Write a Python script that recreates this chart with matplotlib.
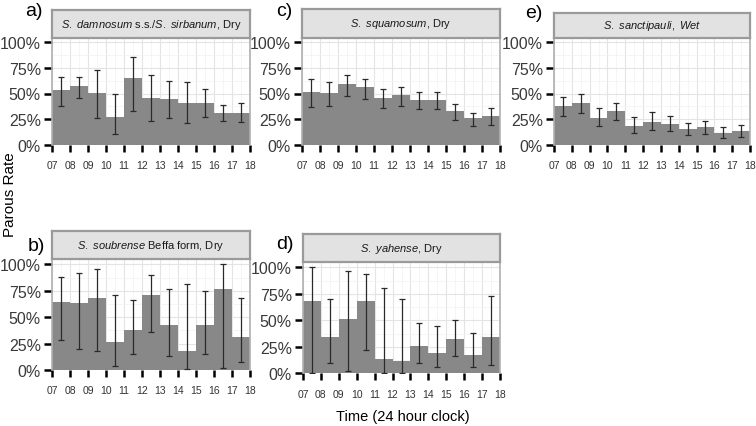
import numpy as np
import matplotlib
matplotlib.use("Agg")
import matplotlib.pyplot as plt
from matplotlib.ticker import MultipleLocator

plt.rcParams['font.family'] = ['Liberation Sans', 'DejaVu Sans']
plt.rcParams['mathtext.fontset'] = 'custom'
plt.rcParams['mathtext.rm'] = 'Liberation Sans'
plt.rcParams['mathtext.it'] = 'Liberation Sans:italic'

# hour bins (start of each hour) and tick labels
hour_start = [7, 8, 9, 10, 11, 12, 13, 14, 15, 16, 17]
tick_hours = [7, 8, 9, 10, 11, 12, 13, 14, 15, 16, 17, 18]
tick_labels = ['07', '08', '09', '10', '11', '12', '13', '14', '15', '16', '17', '18']

# parous rate (%) with upper / lower confidence limits
a_rate = [53.4, 57.6, 50.5, 26.7, 65.1, 45.9, 44.3, 40.4, 40.4, 31.0, 31.0]
a_hi = [66.4, 66.4, 73.2, 49.5, 85.9, 68.4, 61.9, 61.2, 54.1, 38.5, 40.4]
a_lo = [37.5, 45.9, 26.1, 10.4, 32.9, 22.8, 25.8, 20.9, 26.8, 22.8, 21.9]

b_rate = [64.7, 63.1, 67.8, 26.3, 38.1, 70.6, 42.5, 17.8, 42.5, 76.3, 30.9]
b_hi = [88.4, 92.2, 95.3, 71.3, 66.6, 90.3, 76.9, 80.9, 74.4, 100.0, 68.4]
b_lo = [28.4, 20.0, 17.8, 4.1, 15.3, 35.6, 13.4, 0.9, 14.7, 1.6, 7.8]

c_rate = [51.2, 50.2, 59.0, 56.0, 45.3, 48.2, 43.9, 43.9, 32.6, 25.8, 27.7]
c_hi = [63.9, 61.5, 67.8, 64.6, 54.4, 56.6, 51.2, 51.0, 39.4, 30.6, 35.5]
c_lo = [36.5, 37.5, 47.6, 44.6, 35.5, 37.8, 34.5, 34.5, 24.4, 18.6, 19.5]

d_rate = [67.8, 34.1, 50.9, 67.8, 13.1, 11.3, 25.6, 18.8, 31.9, 16.9, 34.1]
d_hi = [100.0, 69.7, 96.9, 93.4, 80.9, 70.0, 47.2, 45.0, 50.0, 37.8, 73.1]
d_lo = [0.0, 9.4, 2.2, 21.6, 0.0, 0.0, 10.0, 5.6, 16.6, 5.6, 7.8]

e_rate = [38.1, 41.0, 26.4, 32.6, 18.6, 22.5, 20.5, 15.6, 17.0, 11.4, 13.4]
e_hi = [46.3, 49.2, 35.5, 41.0, 27.3, 32.2, 27.7, 21.5, 22.8, 17.0, 19.5]
e_lo = [27.7, 30.6, 17.9, 23.8, 11.4, 14.1, 13.1, 9.8, 10.7, 6.8, 7.2]

W, H = 756, 427
fig = plt.figure(figsize=(W / 100, H / 100), dpi=100)


def px_axes(left, right, top, bottom):
    return fig.add_axes([left / W, (H - bottom) / H, (right - left) / W, (bottom - top) / H])


# (letter, letter xy, title, data, left, right, strip_top, axes_top, y100, y0)
panels = [
    ('a)', (34, 12), r'$\it{S.\ damnosum}$ s.s./$\it{S.\ sirbanum}$, Dry', (a_rate, a_hi, a_lo),
     52, 250, 11, 39.3, 43.3, 145.7),
    ('c)', (284, 12), r'$\it{S.\ squamosum}$, Dry', (c_rate, c_hi, c_lo),
     302, 500, 10, 38.5, 43.3, 145.7),
    ('e)', (534, 13), r'$\it{S.\ sanctipauli,\ Wet}$', (e_rate, e_hi, e_lo),
     554, 750, 14, 38.5, 43.3, 145.7),
    ('b)', (36, 247), r'$\it{S.\ soubrense}$ Beffa form, Dry', (b_rate, b_hi, b_lo),
     52, 250, 232, 260, 265.3, 371),
    ('d)', (285, 245), r'$\it{S.\ yahense}$, Dry', (d_rate, d_hi, d_lo),
     303, 500, 235, 263, 268.3, 374.3),
]

bar_col = '#888888'
for letter, (lx, ly), title, (rate, hi, lo), left, right, stop, atop, y100, y0 in panels:
    ax = px_axes(left, right, atop, y0)
    x = np.array(hour_start)
    ax.bar(x, rate, width=1.0, align='edge', color=bar_col, linewidth=0, zorder=2)
    r = np.array(rate)
    ax.errorbar(x + 0.5, r, yerr=[r - np.array(lo), np.array(hi) - r], fmt='none',
                ecolor='#2a2a2a', elinewidth=0.9, capsize=2.0, capthick=0.9, zorder=3)
    ax.set_xlim(7, 18)
    ax.set_ylim(0, 100 * (y0 - atop) / (y0 - y100))
    ax.set_xticks(tick_hours)
    ax.set_xticklabels(tick_labels)
    ax.set_yticks([0, 25, 50, 75, 100])
    ax.set_yticklabels(['0%', '25%', '50%', '75%', '100%'])
    ax.yaxis.set_minor_locator(MultipleLocator(12.5))
    ax.xaxis.set_minor_locator(MultipleLocator(0.5))
    ax.grid(True, which='major', color='#e4e4e4', linewidth=0.8, zorder=0)
    ax.grid(True, which='minor', color='#f2f2f2', linewidth=0.5, zorder=0)
    ax.set_axisbelow(True)
    ax.tick_params(axis='x', which='major', length=5, width=1.8, color='black',
                   labelsize=7.5, labelcolor='#333333', pad=6)
    ax.tick_params(axis='y', which='major', length=6, width=1.8, color='black',
                   labelsize=11.5, labelcolor='#3a3a3a', pad=2)
    ax.tick_params(which='minor', length=0)
    for s in ax.spines.values():
        s.set_color('#b0b0b0')
        s.set_linewidth(1.2)
    ax.spines['bottom'].set_visible(False)

    sax = px_axes(left, right, stop, atop)
    sax.set_facecolor('#e2e2e2')
    sax.set_xticks([])
    sax.set_yticks([])
    for s in sax.spines.values():
        s.set_color('#9a9a9a')
        s.set_linewidth(1.6)
    sax.text(0.5, 0.5, title, ha='center', va='center', fontsize=8, color='#1a1a1a',
             transform=sax.transAxes)

    fig.text(lx / W, (H - ly) / H, letter, ha='center', va='center',
             fontsize=14, color='black')

fig.text(10 / W, (H - 195) / H, 'Parous Rate', rotation=90, ha='center', va='center',
         fontsize=11)
fig.text(403 / W, (H - 417) / H, 'Time (24 hour clock)', ha='center', va='center',
         fontsize=10.5)

fig.savefig('out.png', dpi=100)
